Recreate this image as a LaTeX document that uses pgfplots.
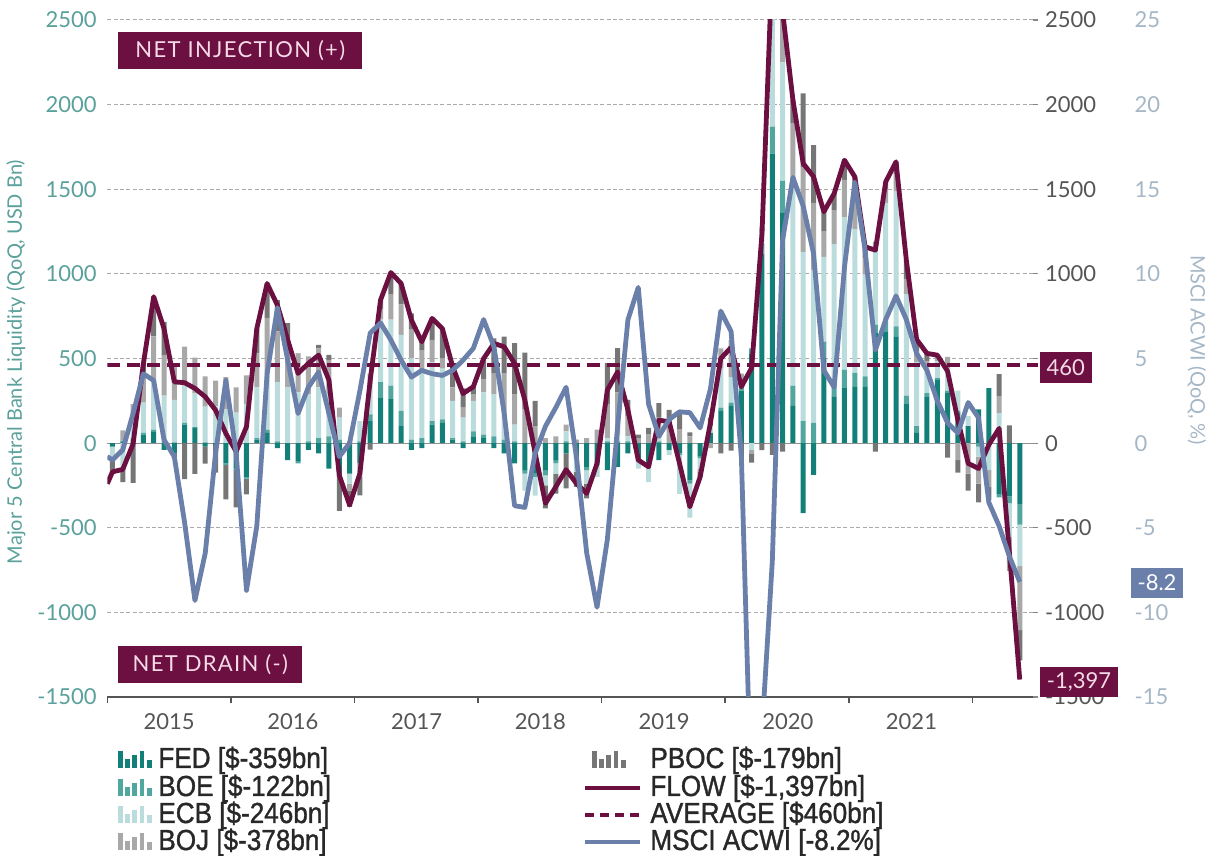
\documentclass[border=0pt]{standalone}
\usepackage{fontspec}
\setmainfont{Lato}
\newfontfamily\legfont{Liberation Sans}[FakeStretch=0.9, FakeBold=1.2]
\newfontfamily\boxfont{Lato}[LetterSpace=6]
\usepackage{pgfplots}
\usepackage{pgfplotstable}
\usetikzlibrary{calc}
\pgfplotsset{compat=1.18}
\definecolor{fedc}{RGB}{18,128,120}
\definecolor{boec}{RGB}{82,166,160}
\definecolor{ecbc}{RGB}{186,220,220}
\definecolor{bojc}{RGB}{168,168,168}
\definecolor{pbocc}{RGB}{118,118,118}
\definecolor{flowc}{RGB}{107,16,64}
\definecolor{mscic}{RGB}{106,128,170}
\definecolor{tealtxt}{RGB}{90,160,155}
\definecolor{msciltxt}{RGB}{165,183,198}
\definecolor{gridc}{RGB}{170,170,170}
\definecolor{txtgrey}{RGB}{85,85,85}
\definecolor{pinktxt}{RGB}{246,218,232}
\definecolor{legtxt}{RGB}{40,40,40}

\pgfplotstableread{
i fed boe ecb boj pboc
0 -20 0 -60 0 -90
1 10 5 -150 60 -80
2 20 10 120 80 -235
3 50 10 180 170 60
4 70 10 300 250 235
5 -40 10 270 240 197
6 -60 5 250 200 -33
7 110 10 220 230 -213
8 90 5 200 210 -182
9 -20 5 210 180 -101
10 -10 0 220 150 -165
11 -120 -10 200 190 -203
12 -150 -10 180 150 -220
13 -200 -10 230 170 -93
14 20 10 300 200 147
15 60 20 330 330 203
16 -30 10 350 300 185
17 -100 0 330 250 129
18 -110 -10 300 230 2
19 -40 10 280 220 1
20 -60 30 300 230 20
21 -150 40 250 200 32
22 -200 20 130 60 -200
23 -180 10 -60 -40 -96
24 -120 10 120 -80 -109
25 130 40 180 60 -38
26 270 90 370 60 55
27 260 80 390 150 128
28 100 90 450 180 123
29 -40 20 480 170 97
30 -30 30 400 120 79
31 110 20 350 130 127
32 120 20 300 60 177
33 20 10 220 80 121
34 -30 10 140 60 113
35 40 30 180 40 43
36 30 20 250 80 120
37 -30 40 250 120 209
38 -60 20 160 230 219
39 -120 10 100 180 301
40 -160 -20 -100 200 334
41 -180 -20 -110 100 150
42 -160 -30 -60 30 -136
43 -100 -20 -60 40 -118
44 -60 10 60 40 -207
45 -80 -10 -80 20 -88
46 -140 -20 -80 30 -87
47 -120 -10 -70 80 0
48 -160 10 20 200 243
49 -140 10 40 250 261
50 -60 10 30 120 95
51 -100 -10 -40 30 20
52 -120 -10 -100 50 40
53 -100 10 20 120 86
54 -40 0 -30 100 96
55 -60 -10 -230 80 100
56 -220 -20 -200 40 24
57 -80 -10 -60 -20 -30
58 60 0 40 -30 50
59 190 20 230 120 -60
60 220 20 150 220 -45
61 310 20 40 40 -77
62 530 30 -40 -20 -55
63 1120 60 60 40 -41
64 1710 160 650 400 -70
65 1360 190 700 350 -50
66 220 120 1200 350 137
67 -414 130 1000 500 436
68 -187 120 900 400 341
69 500 100 500 150 117
70 276 100 800 200 99
71 325 110 900 220 117
72 335 80 850 200 109
73 335 60 600 100 65
74 650 50 450 40 -50
75 660 60 700 80 44
76 630 60 800 100 72
77 230 50 600 90 111
78 60 40 380 60 72
79 276 20 150 40 44
80 374 10 100 20 16
81 300 10 130 70 -85
82 180 10 120 -100 -74
83 100 0 60 -180 -100
84 200 -20 -60 -160 -110
85 325 -10 -150 -100 -75
86 -300 -20 177 100 130
87 -315 -40 -200 -200 105
88 -359 -122 -246 -378 -179
}\bars

\pgfplotstableread{
t flow msci
-0.5 -240 -0.8
0 -170 -1.0
1 -155 -0.4
2 -5 1.75
3 470 4.1
4 865 3.7
5 677 0.2
6 362 -0.8
7 357 -4.7
8 323 -9.3
9 274 -6.5
10 195 -0.6
11 57 3.7
12 -50 -0.6
13 97 -8.7
14 677 -4.9
15 943 4.1
16 815 8.0
17 609 4.9
18 412 1.75
19 471 3.3
20 520 4.2
21 372 1.75
22 -190 -0.8
23 -366 0.0
24 -179 3.1
25 372 6.5
26 845 7.1
27 1008 6.1
28 943 4.9
29 727 3.9
30 599 4.3
31 737 4.1
32 677 4.0
33 451 4.3
34 293 4.9
35 333 5.6
36 500 7.3
37 589 5.7
38 569 1.75
39 471 -3.7
40 254 -3.8
41 -60 -0.6
42 -356 1.0
43 -258 2.1
44 -157 3.3
45 -238 -0.8
46 -297 -6.5
47 -120 -9.7
48 313 -5.7
49 421 1.0
50 195 7.3
51 -100 9.2
52 -140 2.3
53 136 0.4
54 126 1.4
55 -120 1.85
56 -376 1.8
57 -200 0.9
58 120 3.2
59 500 7.8
60 565 6.6
61 333 -0.8
62 445 -22
63 1239 -17
64 2850 -7
65 2550 12
66 2027 15.7
67 1652 14.0
68 1574 11.2
69 1367 4.3
70 1475 3.3
71 1672 10.4
72 1574 15.4
73 1160 11.4
74 1140 5.5
75 1544 7.3
76 1662 8.7
77 1081 7.3
78 612 5.3
79 530 4.3
80 520 2.5
81 425 1.2
82 136 0.6
83 -120 2.4
84 -150 1.5
85 -10 -3.5
86 87 -4.9
87 -650 -6.7
88 -1397 -8.2
}\lines

\pgfplotsset{
  base/.style={at={(53.65pt,79.5pt)}, anchor=south west, scale only axis,
    width=465.35pt, height=338.5pt, xmin=-0.5, xmax=89.77,
    ymin=-1500, ymax=2500,
    /pgf/number format/assume math mode=true,
    tick label style={font=\fontsize{11}{13}\selectfont}},
}

\newcommand{\baricon}[3]{%
  \fill[#3] (#1,#2) rectangle ++(2.4pt,8.5pt);
  \fill[#3] ($(#1,#2)+(3.6pt,0)$) rectangle ++(2.4pt,4.5pt);
  \fill[#3] ($(#1,#2)+(7.2pt,0)$) rectangle ++(2.4pt,6.5pt);
  \fill[#3] ($(#1,#2)+(10.8pt,0)$) rectangle ++(2.4pt,8.5pt);
  \fill[#3] ($(#1,#2)+(14.4pt,0)$) rectangle ++(2.4pt,4pt);
}

\begin{document}
\begin{tikzpicture}
\useasboundingbox (0,0) rectangle (607.5pt,428pt);

% axis 1: grid, left labels, positive stacks
\begin{axis}[base, ybar stacked, bar width=2.5pt,
  axis x line*=bottom, axis y line*=left,
  x axis line style={draw=txtgrey, line width=0.8pt, -},
  y axis line style={draw=none},
  xtick={5.5,17.5,29.5,41.5,53.5,65.5,77.5},
  xticklabels={2015,2016,2017,2018,2019,2020,2021},
  xtick style={draw=none},
  xticklabel style={text=txtgrey, yshift=-4.9pt},
  ytick={-1500,-1000,-500,0,500,1000,1500,2000,2500},
  yticklabels={-1500,-1000,-500,0,500,1000,1500,2000,2500},
  ytick style={draw=none},
  yticklabel style={text=tealtxt, xshift=-1.8pt},
  ymajorgrids,
  major grid style={gridc, dash pattern=on 2pt off 1.2pt, line width=0.5pt},
]
\draw[gridc!85!black, line width=0.6pt] (axis cs:-0.5,0) -- (axis cs:89.77,0);
\addplot[fill=fedc, draw=none] table[x=i, y expr={max(\thisrow{fed},0)}] {\bars};
\addplot[fill=boec, draw=none] table[x=i, y expr={max(\thisrow{boe},0)}] {\bars};
\addplot[fill=ecbc, draw=none] table[x=i, y expr={max(\thisrow{ecb},0)}] {\bars};
\addplot[fill=bojc, draw=none] table[x=i, y expr={max(\thisrow{boj},0)}] {\bars};
\addplot[fill=pbocc, draw=none] table[x=i, y expr={max(\thisrow{pboc},0)}] {\bars};
\end{axis}

% axis 2: negative stacks
\begin{axis}[base, ybar stacked, bar width=2.5pt, hide axis]
\addplot[fill=fedc, draw=none] table[x=i, y expr={min(\thisrow{fed},0)}] {\bars};
\addplot[fill=boec, draw=none] table[x=i, y expr={min(\thisrow{boe},0)}] {\bars};
\addplot[fill=ecbc, draw=none] table[x=i, y expr={min(\thisrow{ecb},0)}] {\bars};
\addplot[fill=bojc, draw=none] table[x=i, y expr={min(\thisrow{boj},0)}] {\bars};
\addplot[fill=pbocc, draw=none] table[x=i, y expr={min(\thisrow{pboc},0)}] {\bars};
\end{axis}

% axis 3: flow + average, right labels
\begin{axis}[base, axis y line*=right, axis x line=none,
  y axis line style={draw=none},
  ytick={-1500,-1000,-500,0,500,1000,1500,2000,2500},
  yticklabels={-1500,-1000,-500,0,{},1000,1500,2000,2500},
  ytick style={draw=gridc!80!black, line width=0.6pt}, tick align=inside, major tick length=2.5pt,
  yticklabel style={text=txtgrey, anchor=west},
  no markers]
\addplot[flowc, line width=2.2pt, dash pattern=on 6.5pt off 3.5pt] coordinates {(-0.5,460) (89.77,460)};
\addplot[flowc, line width=2.4pt, line join=round] table[x=t, y=flow] {\lines};
\end{axis}

% axis 4: MSCI
\begin{axis}[base, ymin=-15, ymax=25, axis y line*=right, axis x line=none,
  y axis line style={draw=none},
  ytick={-15,-10,-5,0,5,10,15,20,25},
  yticklabels={-15,-10,-5,0,5,10,15,20,25},
  ytick style={draw=none},
  yticklabel style={text=msciltxt, anchor=west, xshift=44.8pt},
  no markers]
\addplot[mscic, line width=2.4pt, line join=round] table[x=t, y=msci] {\lines};
\end{axis}

% year-boundary tick marks on the bottom axis
\foreach \xp in {53.65,115.4,177.2,239.0,300.8,362.6,424.4,486.2} {
  \draw[txtgrey, line width=0.8pt] (\xp pt,79.5pt) -- (\xp pt,76.5pt);
}

% axis titles
\node[rotate=90, text=tealtxt, font=\fontsize{10}{12}\selectfont] at (8pt,247pt) {Major 5 Central Bank Liquidity (QoQ, USD Bn)};
\node[rotate=-90, text=msciltxt, font=\fontsize{10}{12}\selectfont] at (598.5pt,253pt) {MSCI ACWI (QoQ, \%)};

% annotation boxes
\node[fill=flowc, text=pinktxt, minimum width=122pt, minimum height=18.5pt, inner sep=0pt, font=\boxfont\fontsize{11}{13}\selectfont] at (120.15pt,402.6pt) {NET INJECTION (+)};
\node[fill=flowc, text=pinktxt, minimum width=92pt, minimum height=18.35pt, inner sep=0pt, font=\boxfont\fontsize{11}{13}\selectfont] at (105.15pt,95.8pt) {NET DRAIN (-)};
\node[fill=flowc, text=pinktxt, minimum width=25.85pt, minimum height=15.5pt, inner sep=0pt, font=\fontsize{11}{13}\selectfont] at (532.9pt,244.4pt) {460};
\node[fill=mscic, text=white, minimum width=26pt, minimum height=15pt, inner sep=0pt, font=\fontsize{11}{13}\selectfont] at (578.5pt,136.5pt) {-8.2};
\node[fill=flowc, text=pinktxt, minimum width=39pt, minimum height=15pt, inner sep=0pt, font=\fontsize{11}{13}\selectfont] at (539.5pt,87.15pt) {-1,397};

% legend, column 1
\baricon{59pt}{44pt}{fedc}
\baricon{59pt}{30pt}{boec}
\baricon{59pt}{16.5pt}{ecbc}
\baricon{59pt}{3pt}{bojc}
\node[anchor=base west, inner sep=0pt, text=legtxt, font=\legfont\fontsize{14.5}{16}\selectfont] at (79pt,44pt) {FED [\$-359bn]};
\node[anchor=base west, inner sep=0pt, text=legtxt, font=\legfont\fontsize{14.5}{16}\selectfont] at (79pt,30pt) {BOE [\$-122bn]};
\node[anchor=base west, inner sep=0pt, text=legtxt, font=\legfont\fontsize{14.5}{16}\selectfont] at (79pt,16.5pt) {ECB [\$-246bn]};
\node[anchor=base west, inner sep=0pt, text=legtxt, font=\legfont\fontsize{14.5}{16}\selectfont] at (79pt,3pt) {BOJ [\$-378bn]};
% legend, column 2
\baricon{296pt}{44pt}{pbocc}
\draw[flowc, line width=2.4pt] (292.5pt,34pt) -- (320pt,34pt);
\draw[flowc, line width=2.4pt, dash pattern=on 4.5pt off 3pt] (292.5pt,20.5pt) -- (320pt,20.5pt);
\draw[mscic, line width=2.4pt] (292.5pt,7pt) -- (320pt,7pt);
\node[anchor=base west, inner sep=0pt, text=legtxt, font=\legfont\fontsize{14.5}{16}\selectfont] at (325pt,44pt) {PBOC [\$-179bn]};
\node[anchor=base west, inner sep=0pt, text=legtxt, font=\legfont\fontsize{14.5}{16}\selectfont] at (325pt,30pt) {FLOW [\$-1,397bn]};
\node[anchor=base west, inner sep=0pt, text=legtxt, font=\legfont\fontsize{14.5}{16}\selectfont] at (325pt,16.5pt) {AVERAGE [\$460bn]};
\node[anchor=base west, inner sep=0pt, text=legtxt, font=\legfont\fontsize{14.5}{16}\selectfont] at (325pt,3pt) {MSCI ACWI [-8.2\%]};
\end{tikzpicture}
\end{document}
